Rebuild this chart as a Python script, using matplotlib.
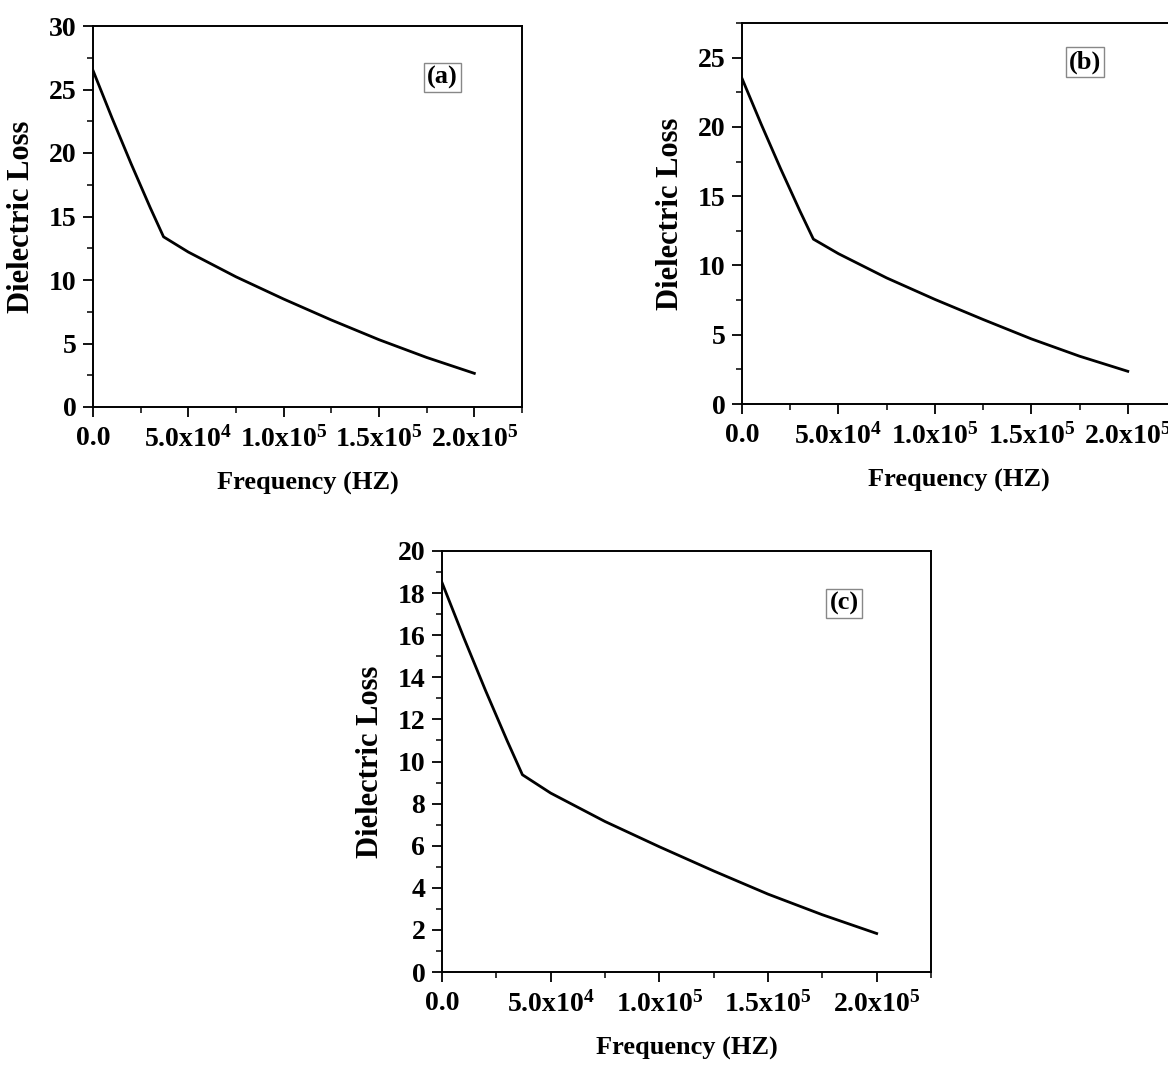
import numpy as np
import matplotlib
matplotlib.use("Agg")
import matplotlib.pyplot as plt
from matplotlib.ticker import MultipleLocator, FixedLocator, FixedFormatter

plt.rcParams["font.family"] = "Liberation Serif"
plt.rcParams["font.weight"] = "bold"
plt.rcParams["mathtext.fontset"] = "custom"
plt.rcParams["mathtext.rm"] = "Liberation Serif:bold"
plt.rcParams["mathtext.bf"] = "Liberation Serif:bold"
plt.rcParams["mathtext.default"] = "bf"

# frequency (Hz) and dielectric loss
freq = [0, 1.0e4, 2.0e4, 3.0e4, 3.7e4, 5.0e4, 7.5e4, 1.0e5, 1.25e5, 1.5e5, 1.75e5, 2.0e5]
loss_a = [26.5, 22.75, 19.15, 15.7, 13.4, 12.2, 10.25, 8.5, 6.85, 5.3, 3.9, 2.65]
loss_b = [23.5, 20.18, 16.99, 13.94, 11.9, 10.85, 9.1, 7.55, 6.1, 4.7, 3.45, 2.36]
loss_c = [18.5, 15.89, 13.38, 10.98, 9.37, 8.5, 7.15, 5.95, 4.8, 3.7, 2.72, 1.83]

xticks = [0, 5e4, 1e5, 1.5e5, 2e5]
xticklabels = ["0.0", "5.0x$10^{4}$", "1.0x$10^{5}$", "1.5x$10^{5}$", "2.0x$10^{5}$"]

W, H = 1168, 1070
fig = plt.figure(figsize=(W / 100, H / 100), dpi=100)


def px_axes(left, right, top, bottom):
    return fig.add_axes([left / W, 1 - bottom / H, (right - left) / W, (bottom - top) / H])


panels = [
    (px_axes(93, 522, 26, 407), loss_a, 30, 5, 2.5, "(a)", (0.815, 0.865)),
    (px_axes(742, 1176, 23, 404), loss_b, 27.5, 5, 2.5, "(b)", (0.79, 0.897)),
    (px_axes(442, 931, 551, 972), loss_c, 20, 2, 1, "(c)", (0.822, 0.875)),
]

for ax, loss, ymax, ymaj, ymin, tag, pos in panels:
    ax.plot(freq, loss, color="black", lw=2)
    ax.set_xlim(0, 2.25e5)
    ax.set_ylim(0, ymax)
    ax.xaxis.set_major_locator(FixedLocator(xticks))
    ax.xaxis.set_major_formatter(FixedFormatter(xticklabels))
    ax.xaxis.set_minor_locator(MultipleLocator(2.5e4))
    ax.yaxis.set_major_locator(MultipleLocator(ymaj))
    ax.yaxis.set_minor_locator(MultipleLocator(ymin))
    ax.tick_params(which="major", direction="out", length=7, width=1.3, labelsize=20, pad=5)
    ax.tick_params(which="minor", direction="out", length=4, width=1.1)
    ax.tick_params(axis="x", which="major", pad=7)
    for s in ax.spines.values():
        s.set_linewidth(1.4)
    ax.set_xlabel("Frequency (HZ)", fontsize=19, fontweight="bold", labelpad=14)
    ax.set_ylabel("Dielectric Loss", fontsize=22, fontweight="bold", labelpad=9)
    ax.text(pos[0], pos[1], tag, transform=ax.transAxes, fontsize=19, fontweight="bold",
            ha="center", va="center",
            bbox=dict(boxstyle="square,pad=0.12", fc="white", ec="#888888", lw=1))

fig.savefig("out.png", dpi=100)
